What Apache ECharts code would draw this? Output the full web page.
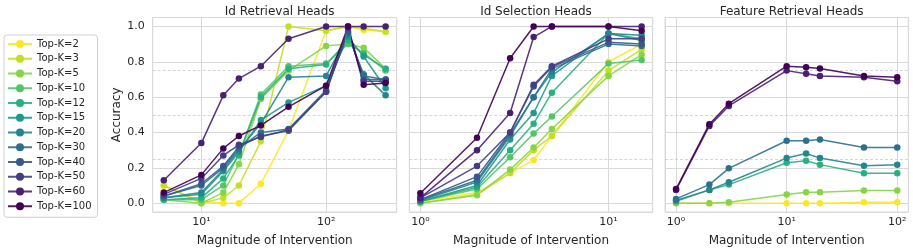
<!DOCTYPE html>
<html>
<head>
<meta charset="utf-8">
<script src="https://cdn.jsdelivr.net/npm/echarts@6/dist/echarts.min.js"></script>
<style>html,body{margin:0;padding:0;background:#fff}#c{width:913px;height:252px}</style>
</head>
<body>
<div id="c"></div>
<script>
// ---------- data ----------
const topK = [2, 3, 5, 10, 12, 15, 20, 30, 40, 50, 60, 100];
const panelTitles = ['Id Retrieval Heads', 'Id Selection Heads', 'Feature Retrieval Heads'];
const xLabel = 'Magnitude of Intervention';
const yLabel = 'Accuracy';

const xRetrieval = [5, 10, 15, 20, 30, 50, 100, 150, 200, 300];
const idRetrieval = [
  [0.10, 0.01, 0.00, 0.00, 0.11, 0.41, 0.975, 1.00, 0.98, 0.97],
  [0.10, 0.00, 0.03, 0.10, 0.35, 1.00, 0.975, 1.00, 0.99, 0.97],
  [0.02, 0.00, 0.06, 0.22, 0.59, 0.75, 0.89, 0.90, 0.88, 0.76],
  [0.02, 0.02, 0.10, 0.28, 0.615, 0.775, 0.79, 0.90, 0.85, 0.75],
  [0.02, 0.03, 0.14, 0.27, 0.60, 0.76, 0.785, 0.92, 0.84, 0.76],
  [0.03, 0.05, 0.18, 0.29, 0.47, 0.57, 0.665, 0.94, 0.83, 0.65],
  [0.03, 0.06, 0.19, 0.30, 0.45, 0.713, 0.72, 0.95, 0.73, 0.61],
  [0.04, 0.10, 0.20, 0.31, 0.40, 0.42, 0.64, 0.96, 0.72, 0.70],
  [0.04, 0.11, 0.21, 0.32, 0.38, 0.41, 0.63, 0.97, 0.70, 0.70],
  [0.05, 0.14, 0.27, 0.33, 0.375, 0.415, 0.63, 0.99, 0.69, 0.69],
  [0.13, 0.34, 0.61, 0.705, 0.775, 0.93, 1.00, 1.00, 1.00, 1.00],
  [0.06, 0.16, 0.31, 0.38, 0.44, 0.545, 0.665, 1.00, 0.67, 0.68]
];

const xSelection = [1, 2, 3, 4, 5, 10, 15];
const idSelection = [
  [0.01, 0.06, 0.17, 0.244, 0.38, 0.80, 0.90],
  [0.00, 0.05, 0.17, 0.30, 0.38, 0.75, 0.87],
  [0.00, 0.045, 0.19, 0.315, 0.42, 0.72, 0.84],
  [0.01, 0.08, 0.26, 0.394, 0.49, 0.79, 0.81],
  [0.01, 0.09, 0.30, 0.45, 0.625, 0.96, 0.93],
  [0.01, 0.10, 0.36, 0.51, 0.72, 0.96, 0.92],
  [0.015, 0.12, 0.38, 0.60, 0.74, 0.96, 0.95],
  [0.02, 0.13, 0.39, 0.60, 0.76, 0.90, 0.89],
  [0.02, 0.15, 0.40, 0.66, 0.77, 0.91, 0.90],
  [0.03, 0.21, 0.40, 0.67, 0.775, 0.93, 0.93],
  [0.03, 0.30, 0.51, 0.94, 1.00, 1.00, 1.00],
  [0.056, 0.37, 0.82, 1.00, 1.00, 1.00, 0.975]
];

const xFeature = [1, 2, 3, 10, 15, 20, 50, 100];
const featureRetrieval = [
  [0.00, 0.00, 0.00, 0.00, 0.00, 0.00, 0.005, 0.005],
  null,
  [0.00, 0.00, 0.005, 0.049, 0.062, 0.062, 0.071, 0.071],
  null,
  [0.01, 0.075, 0.105, 0.229, 0.24, 0.218, 0.169, 0.169],
  null,
  [0.015, 0.075, 0.118, 0.255, 0.281, 0.255, 0.212, 0.218],
  [0.024, 0.105, 0.197, 0.353, 0.353, 0.36, 0.315, 0.315],
  null,
  null,
  [0.075, 0.437, 0.55, 0.75, 0.732, 0.719, 0.713, 0.69],
  [0.08, 0.447, 0.563, 0.775, 0.769, 0.762, 0.719, 0.713]
];

// ---------- style ----------
const colors = ['#fde725', '#c2df23', '#86d549', '#52c569', '#2ab07f', '#1e9b8a',
                '#25858e', '#2d708e', '#38588c', '#433e85', '#482173', '#440154'];
const FONT = 'DejaVu Sans';
const GRID_C = '#d9d9d9';
const grids = [
  {left: 152.7, top: 17.6, width: 244, height: 195.6},
  {left: 409.3, top: 17.6, width: 243.4, height: 195.6},
  {left: 665, top: 17.6, width: 243.3, height: 195.6}
];
const xRanges = [
  [Math.pow(10, 0.6101), Math.pow(10, 2.5660)],
  [Math.pow(10, -0.0588), Math.pow(10, 1.2349)],
  [Math.pow(10, -0.1), Math.pow(10, 2.1)]
];
const sup = ['\u2070', '\u00b9', '\u00b2', '\u00b3'];

const xAxes = grids.map((g, i) => ({
  type: 'log', logBase: 10, gridIndex: i,
  min: xRanges[i][0], max: xRanges[i][1],
  name: xLabel, nameLocation: 'middle', nameGap: 23,
  nameTextStyle: {fontFamily: FONT, fontSize: 12, color: '#262626'},
  axisLine: {show: false}, axisTick: {show: false},
  axisLabel: {
    fontFamily: FONT, fontSize: 11, color: '#262626', margin: 5,
    formatter: v => {
      const l = Math.log10(v);
      const r = Math.round(l);
      return Math.abs(l - r) < 1e-6 && r >= 0 ? '10' + sup[r] : '';
    }
  },
  splitLine: {show: true, lineStyle: {color: GRID_C, width: 1}},
  minorTick: {show: false}
}));

const yAxes = grids.map((g, i) => ({
  type: 'value', gridIndex: i, min: -0.05, max: 1.05, splitNumber: 5,
  name: i === 0 ? yLabel : '', nameLocation: 'middle', nameGap: 28,
  nameTextStyle: {fontFamily: FONT, fontSize: 12, color: '#262626'},
  axisLine: {show: false}, axisTick: {show: false},
  axisLabel: {
    show: i === 0, fontFamily: FONT, fontSize: 11, color: '#262626', margin: 8,
    formatter: v => Math.abs(v * 5 - Math.round(v * 5)) < 1e-6 ? v.toFixed(1) : ''
  },
  splitLine: {show: true, lineStyle: {color: GRID_C, width: 1}}
}));

const panels = [
  {x: xRetrieval, ys: idRetrieval},
  {x: xSelection, ys: idSelection},
  {x: xFeature, ys: featureRetrieval}
];

const series = [];
panels.forEach((p, gi) => {
  series.push({
    type: 'line', name: '', xAxisIndex: gi, yAxisIndex: gi, data: [], silent: true,
    markLine: {
      silent: true, symbol: 'none', label: {show: false}, animation: false, z: 1,
      lineStyle: {color: '#cccccc', type: [3, 2], width: 0.8},
      data: [{yAxis: 0.25}, {yAxis: 0.5}, {yAxis: 0.75}]
    }
  });
  topK.forEach((k, si) => {
    const ys = p.ys[si];
    if (!ys) return;
    series.push({
      type: 'line', name: 'Top-K=' + k, xAxisIndex: gi, yAxisIndex: gi,
      data: p.x.map((xv, j) => [xv, ys[j]]),
      symbol: 'circle', symbolSize: 6.5, showAllSymbol: true,
      lineStyle: {color: colors[si], width: 1.5, opacity: 0.9},
      itemStyle: {color: colors[si], opacity: 1},
      emphasis: {disabled: true}, animation: false, z: 3
    });
  });
});

const chart = echarts.init(document.getElementById('c'), null, {renderer: 'canvas'});
chart.setOption({
  animation: false,
  backgroundColor: '#fff',
  title: grids.map((g, i) => ({
    text: panelTitles[i], left: g.left + g.width / 2, top: 1, textAlign: 'center',
    textStyle: {fontFamily: FONT, fontSize: 12, fontWeight: 'normal', color: '#262626'}
  })),
  legend: {
    data: topK.map(k => 'Top-K=' + k),
    orient: 'vertical', left: 4, top: 35,
    padding: [4, 6, 6, 3],
    itemWidth: 24, itemHeight: 10, itemGap: 4.75,
    borderColor: '#d0d0d0', borderWidth: 1, borderRadius: 3,
    textStyle: {fontFamily: FONT, fontSize: 10, color: '#262626'},
    selectedMode: false
  },
  grid: grids.map(g => Object.assign({show: true, borderColor: GRID_C, borderWidth: 1, backgroundColor: 'transparent', containLabel: false}, g)),
  xAxis: xAxes,
  yAxis: yAxes,
  series: series
});
</script>
</body>
</html>
